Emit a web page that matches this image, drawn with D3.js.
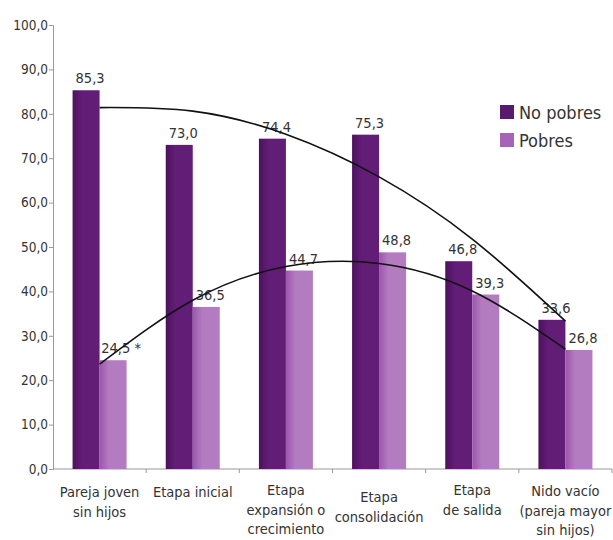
<!DOCTYPE html>
<html><head><meta charset="utf-8">
<script src="https://cdn.jsdelivr.net/npm/d3@7"></script>
<style>
body{margin:0;background:#fff;}
text{font-family:"Liberation Sans Narrow","DejaVu Sans Condensed","Noto Sans",sans-serif;fill:#333;}
</style></head>
<body><svg id="c" width="613" height="540"></svg>
<script>
const categories = ["Pareja joven|sin hijos","Etapa inicial","Etapa|expansión o|crecimiento","Etapa|consolidación","Etapa|de salida","Nido vacío|(pareja mayor|sin hijos)"];
const noPobres = [85.3, 73.0, 74.4, 75.3, 46.8, 33.6];
const pobres = [24.5, 36.5, 44.7, 48.8, 39.3, 26.8];
const pobresLabels = ["24,5 *","36,5","44,7","48,8","39,3","26,8"];
const trendNoPobres = [81.4, 80.6, 75.4, 65.8, 51.8, 33.3];
const trendPobres = [23.6, 38.0, 45.6, 46.3, 40.1, 27.0];
const yTicks = [0,10,20,30,40,50,60,70,80,90,100];
const seriesNames = ["No pobres","Pobres"];

const svg = d3.select("#c");
const fmt = v => d3.format(".1f")(v).replace(".", ",");
const x = d3.scaleBand().domain(categories).range([53, 612]).padding(0);
const y = d3.scaleLinear().domain([0, 100]).range([469, 25]);
const barW = 27;

const defs = svg.append("defs");
function grad(id, c1, c2){
  const g = defs.append("linearGradient").attr("id", id).attr("x1","0").attr("x2","1").attr("y1","0").attr("y2","0");
  g.append("stop").attr("offset","0").attr("stop-color",c1);
  g.append("stop").attr("offset","0.35").attr("stop-color",c2);
  g.append("stop").attr("offset","1").attr("stop-color",c2);
}
grad("gDark", "#4c115c", "#621d77");
grad("gLight", "#9a56ab", "#b47cc0");

// axes
const yAxis = svg.append("g").attr("transform","translate(53,0)")
  .call(d3.axisLeft(y).tickValues(yTicks).tickSize(4).tickFormat(fmt));
yAxis.select(".domain").attr("stroke","#999");
yAxis.selectAll(".tick line").attr("stroke","#999");
yAxis.selectAll(".tick text").attr("font-size",13.5).attr("fill","#333").attr("x",-5);

const xAxis = svg.append("g").attr("transform","translate(0,469)");
xAxis.append("line").attr("x1",53).attr("x2",612).attr("stroke","#999");
xAxis.selectAll("line.t").data(categories.slice(1)).enter().append("line")
  .attr("x1", d => x(d)).attr("x2", d => x(d)).attr("y1",0).attr("y2",4).attr("stroke","#999");
xAxis.append("line").attr("x1",612).attr("x2",612).attr("y1",0).attr("y2",4).attr("stroke","#999");

const firstLineY = [492, 492, 490, 497, 490, 491];
categories.forEach((c,i) => {
  const t = svg.append("text").attr("text-anchor","middle").attr("font-size",14.5).attr("fill","#2a2a2a")
    .attr("x", x(c) + x.bandwidth()/2).attr("y", firstLineY[i] + 5);
  c.split("|").forEach((ln,j) => {
    t.append("tspan").attr("x", x(c) + x.bandwidth()/2).attr("dy", j ? 19.5 : 0).text(ln);
  });
});

const cx = c => x(c) + x.bandwidth()/2;

// bars
svg.append("g").selectAll("rect").data(categories).enter().append("rect")
  .attr("x", d => cx(d) - barW).attr("width", barW)
  .attr("y", (d,i) => y(noPobres[i])).attr("height", (d,i) => y(0) - y(noPobres[i]))
  .attr("fill","url(#gDark)");
svg.append("g").selectAll("rect").data(categories).enter().append("rect")
  .attr("x", d => cx(d)).attr("width", barW)
  .attr("y", (d,i) => y(pobres[i])).attr("height", (d,i) => y(0) - y(pobres[i]))
  .attr("fill","url(#gLight)");

// value labels
svg.append("g").selectAll("text").data(categories).enter().append("text")
  .attr("x", d => cx(d) - barW/2 + 4).attr("y", (d,i) => y(noPobres[i]) - 7)
  .attr("text-anchor","middle").attr("font-size",14.5).text((d,i) => fmt(noPobres[i]));
svg.append("g").selectAll("text").data(categories).enter().append("text")
  .attr("x", (d,i) => cx(d) + barW/2 + (i===0 ? 8 : 4)).attr("y", (d,i) => y(pobres[i]) - 7)
  .attr("text-anchor","middle").attr("font-size",14.5).text((d,i) => pobresLabels[i]);

// trend lines
const line = d3.line().x((d,i) => cx(categories[i])).y(d => y(d)).curve(d3.curveNatural);
svg.append("path").attr("d", line(trendNoPobres)).attr("fill","none").attr("stroke","#111").attr("stroke-width",1.6);
svg.append("path").attr("d", line(trendPobres)).attr("fill","none").attr("stroke","#111").attr("stroke-width",1.6);

// legend
const lg = svg.append("g").attr("transform","translate(500,105)");
["gDark","gLight"].forEach((g,i) => {
  lg.append("rect").attr("x",0).attr("y", i*28).attr("width",14).attr("height",14).attr("fill", i ? "#a763b6" : "#581a6c");
  lg.append("text").attr("x",19).attr("y", i*28 + 14).attr("font-size",18).attr("fill","#222").text(seriesNames[i]);
});
</script></body></html>
